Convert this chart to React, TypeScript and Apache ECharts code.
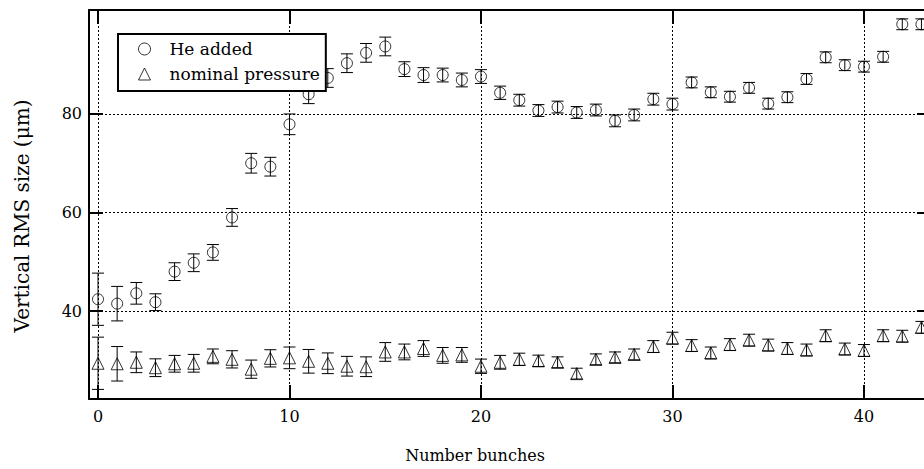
import React, { useEffect, useRef } from "react";
import * as echarts from "echarts";

const bunches: number[] = Array.from({ length: 44 }, (_, i) => i);

const heAdded: number[] = [
  42.4, 41.5, 43.6, 41.8, 48.0, 49.8, 51.9, 59.0, 70.0, 69.3, 77.9, 84.0, 87.3, 90.3,
  92.4, 93.7, 89.1, 87.9, 87.9, 86.9, 87.6, 84.3, 82.8, 80.7, 81.4, 80.3, 80.8, 78.6,
  79.8, 83.0, 82.0, 86.4, 84.4, 83.5, 85.3, 82.1, 83.4, 87.1, 91.5, 89.9, 89.6, 91.6,
  98.2, 98.2,
];
const heErr: number[] = [
  5.3, 3.5, 2.2, 1.7, 1.8, 1.8, 1.6, 1.8, 2.0, 1.9, 2.1, 1.9, 1.9, 1.9, 1.9, 1.9, 1.5,
  1.5, 1.4, 1.4, 1.4, 1.35, 1.2, 1.2, 1.2, 1.2, 1.2, 1.2, 1.2, 1.2, 1.2, 1.1, 1.1, 1.1,
  1.1, 1.1, 1.1, 1.1, 1.1, 1.1, 1.1, 1.1, 1.1, 1.1,
];

const nominal: number[] = [
  29.4, 29.3, 29.6, 28.5, 29.3, 29.4, 30.8, 30.2, 28.2, 30.4, 30.5, 29.8, 29.4, 28.8,
  28.7, 31.7, 31.7, 32.4, 31.0, 31.1, 28.8, 29.6, 30.2, 29.9, 29.6, 27.3, 30.2, 30.6,
  31.2, 32.8, 34.5, 33.0, 31.5, 33.2, 34.1, 33.1, 32.4, 32.1, 35.0, 32.3, 32.0, 35.0,
  34.9, 36.7,
];
const nomErr: number[] = [
  5.3, 3.5, 2.1, 1.8, 1.7, 1.8, 1.5, 1.75, 1.85, 1.75, 2.2, 2.4, 2.1, 2.0, 2.0, 1.9, 1.6,
  1.6, 1.6, 1.5, 1.45, 1.4, 1.25, 1.15, 1.1, 1.1, 1.1, 1.1, 1.1, 1.2, 1.2, 1.2, 1.2, 1.2,
  1.2, 1.2, 1.2, 1.2, 1.2, 1.2, 1.2, 1.2, 1.2, 1.2,
];

const xTicks: number[] = [0, 10, 20, 30, 40];
const yTicks: number[] = [40, 60, 80];
const seriesNames: string[] = ["He added", "nominal pressure"];
const xTitle = "Number bunches";
const yTitle = "Vertical RMS size (μm)";

const FONT = "DejaVu Serif";
const X_MIN = -0.47;
const X_MAX = 43.5;
const Y_MIN = 22.15;
const Y_MAX = 101.1;

function errorBarRender(params: any, api: any) {
  const x = api.value(0);
  const lo = api.value(1);
  const hi = api.value(2);
  const top = api.coord([x, hi]);
  const bot = api.coord([x, lo]);
  const hw = 6;
  const style = { stroke: "#000", lineWidth: 1, fill: "none" };
  return {
    type: "group",
    children: [
      { type: "line", shape: { x1: top[0], y1: top[1], x2: bot[0], y2: bot[1] }, style },
      { type: "line", shape: { x1: top[0] - hw, y1: top[1], x2: top[0] + hw, y2: top[1] }, style },
      { type: "line", shape: { x1: bot[0] - hw, y1: bot[1], x2: bot[0] + hw, y2: bot[1] }, style },
    ],
  };
}

export default function App() {
  const ref = useRef<HTMLDivElement>(null);

  useEffect(() => {
    if (!ref.current) return;
    const chart = echarts.init(ref.current, null, { renderer: "svg" });

    const axisLine = { show: true, onZero: false, lineStyle: { color: "#000", width: 2 } };
    const tickStyle = { color: "#000", width: 2 };

    const heBars = bunches.map((x, i) => [x, heAdded[i] - heErr[i], heAdded[i] + heErr[i]]);
    const nomBars = bunches.map((x, i) => [x, nominal[i] - nomErr[i], nominal[i] + nomErr[i]]);

    const markerStyle = { color: "rgba(0,0,0,0)", borderColor: "#000", borderWidth: 1 };
    const legendText = {
      fontFamily: FONT,
      fontSize: 17,
      color: "#000",
      lineHeight: 18,
      padding: [0, 0, 0, 14],
    };

    chart.setOption({
      animation: false,
      backgroundColor: "#fff",
      textStyle: { fontFamily: FONT },
      grid: { left: 89, top: 10, right: 0, bottom: 70, containLabel: false },
      xAxis: [
        {
          type: "value",
          position: "bottom",
          min: X_MIN,
          max: X_MAX,
          axisLine,
          axisTick: { show: true, inside: true, length: 14, lineStyle: tickStyle, customValues: xTicks },
          axisLabel: {
            show: true,
            customValues: xTicks,
            color: "#000",
            fontFamily: FONT,
            fontSize: 16,
            margin: 9,
          },
          splitLine: { show: true, lineStyle: { color: "#000", width: 1, type: [2, 2] } },
        },
        {
          type: "value",
          position: "top",
          min: X_MIN,
          max: X_MAX,
          axisLine,
          axisTick: { show: true, inside: true, length: 14, lineStyle: tickStyle, customValues: xTicks },
          axisLabel: { show: false },
          splitLine: { show: false },
        },
      ],
      yAxis: [
        {
          type: "value",
          position: "left",
          min: Y_MIN,
          max: Y_MAX,
          axisLine,
          axisTick: { show: true, inside: true, length: 14, lineStyle: tickStyle, customValues: yTicks },
          axisLabel: {
            show: true,
            customValues: yTicks,
            color: "#000",
            fontFamily: FONT,
            fontSize: 16,
            margin: 7,
          },
          splitLine: { show: true, lineStyle: { color: "#000", width: 1, type: [2, 2] } },
        },
        {
          type: "value",
          position: "right",
          min: Y_MIN,
          max: Y_MAX,
          axisLine,
          axisTick: { show: true, inside: true, length: 14, lineStyle: tickStyle, customValues: yTicks },
          axisLabel: { show: false },
          splitLine: { show: false },
        },
      ],
      legend: {
        orient: "vertical",
        left: 118,
        top: 34,
        padding: [6, 6, 8, 20],
        itemGap: 7,
        itemWidth: 12,
        itemHeight: 12,
        borderColor: "#000",
        borderWidth: 2,
        borderRadius: 0,
        backgroundColor: "#fff",
        selectedMode: false,
        textStyle: legendText,
        data: [
          { name: seriesNames[0], icon: "circle", itemStyle: markerStyle, textStyle: legendText },
          { name: seriesNames[1], icon: "triangle", itemStyle: markerStyle, textStyle: legendText },
        ],
      },
      graphic: [
        {
          type: "text",
          x: 475,
          y: 455,
          style: {
            text: xTitle,
            fontFamily: FONT,
            fontSize: 16,
            fill: "#000",
            align: "center",
            verticalAlign: "middle",
          },
        },
        {
          type: "text",
          x: 22,
          y: 216,
          rotation: Math.PI / 2,
          style: {
            text: yTitle,
            fontFamily: FONT,
            fontSize: 20,
            fill: "#000",
            align: "center",
            verticalAlign: "middle",
          },
        },
      ],
      series: [
        {
          name: seriesNames[0] + " error",
          type: "custom",
          renderItem: errorBarRender,
          data: heBars,
          encode: { x: 0, y: [1, 2] },
          z: 3,
          silent: true,
        },
        {
          name: seriesNames[1] + " error",
          type: "custom",
          renderItem: errorBarRender,
          data: nomBars,
          encode: { x: 0, y: [1, 2] },
          z: 3,
          silent: true,
        },
        {
          name: seriesNames[0],
          type: "scatter",
          symbol: "circle",
          symbolSize: 11,
          itemStyle: markerStyle,
          data: bunches.map((x, i) => [x, heAdded[i]]),
          z: 3,
        },
        {
          name: seriesNames[1],
          type: "scatter",
          symbol: "triangle",
          symbolSize: 12,
          itemStyle: markerStyle,
          data: bunches.map((x, i) => [x, nominal[i]]),
          z: 3,
        },
      ],
    });

    return () => chart.dispose();
  }, []);

  return (
    <div
      style={{
        position: "absolute",
        left: 0,
        top: 0,
        width: 924,
        height: 469,
        overflow: "hidden",
        background: "#fff",
      }}
    >
      <div ref={ref} style={{ width: 931, height: 469 }} />
    </div>
  );
}
